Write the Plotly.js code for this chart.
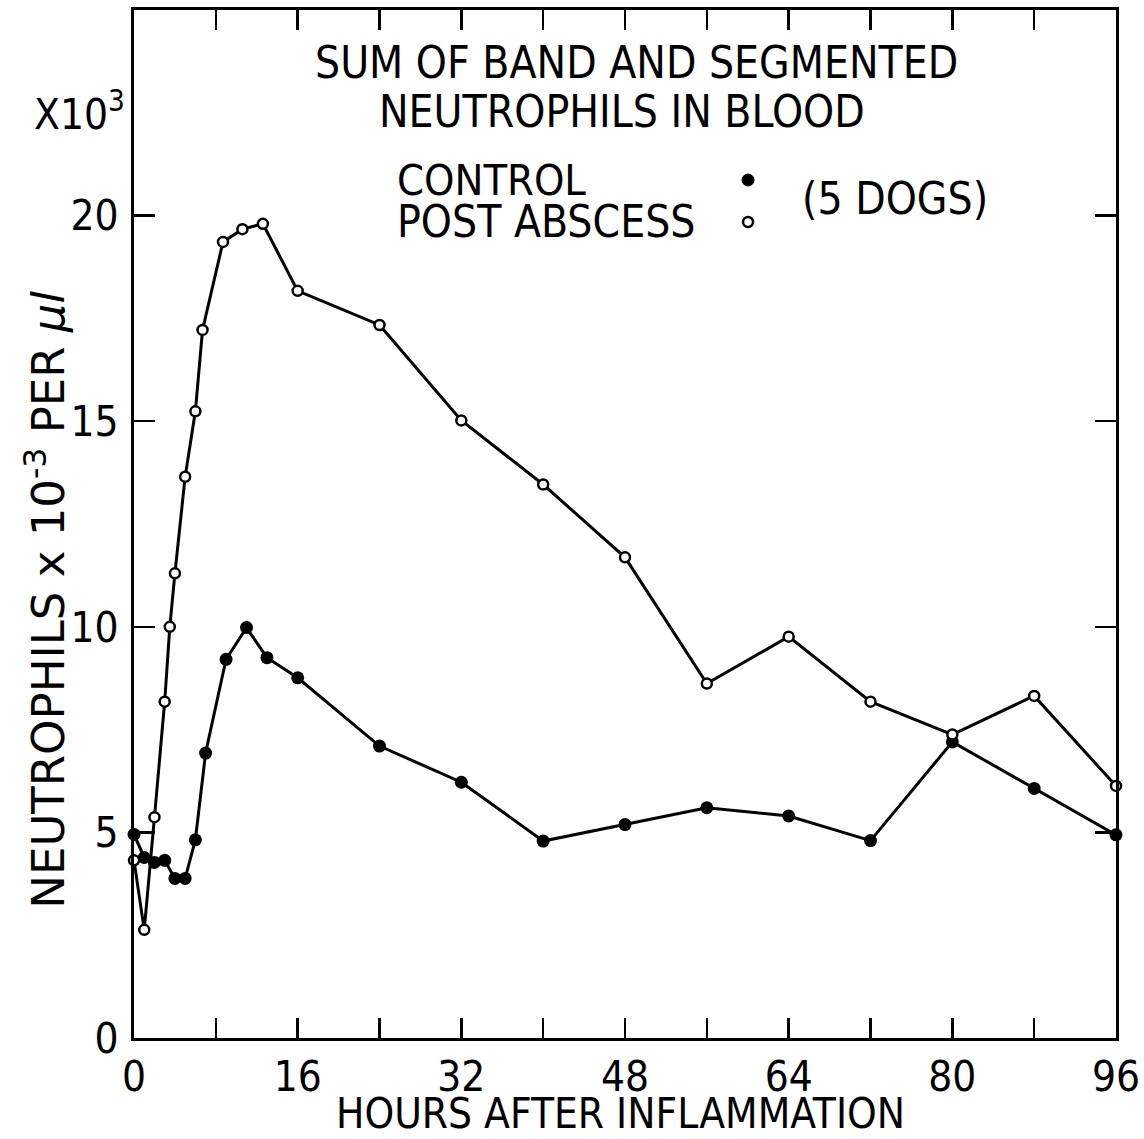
<!DOCTYPE html>
<html>
<head>
<meta charset="utf-8">
<script src="https://cdn.plot.ly/plotly-3.0.1.min.js"></script>
<style>html,body{margin:0;padding:0;background:#fff;}#chart{width:1144px;height:1139px;}</style>
</head>
<body>
<div id="chart"></div>
<script>
// Control (filled circles)
const controlHours = [0, 1, 2, 3, 4, 5, 6, 7, 9, 11, 13, 16, 24, 32, 40, 48, 56, 64, 72, 80, 88, 96];
const controlValues = [4.95, 4.39, 4.27, 4.32, 3.88, 3.88, 4.82, 6.93, 9.21, 9.98, 9.25, 8.76, 7.10, 6.22, 4.79, 5.19, 5.60, 5.40, 4.80, 7.20, 6.07, 4.94];
// Post abscess (open circles)
const postHours = [0, 1, 2, 3, 3.5, 4, 5, 6, 6.7, 8.7, 10.6, 12.6, 16, 24, 32, 40, 48, 56, 64, 72, 80, 88, 96];
const postValues = [4.32, 2.63, 5.37, 8.18, 10.0, 11.3, 13.65, 15.24, 17.22, 19.36, 19.67, 19.8, 18.17, 17.34, 15.02, 13.46, 11.69, 8.62, 9.76, 8.18, 7.38, 8.32, 6.13];
// Axis ticks
const xTickVals = [0, 16, 32, 48, 64, 80, 96];
const xTickText = ['0', '16', '32', '48', '64', '80', '96'];
const xMinorStep = 8;
const yTickVals = [0, 5, 10, 15, 20];
const yTickText = ['0', '5', '10', '15', '20'];

const FONT = '"DejaVu Sans Condensed", "DejaVu Sans", sans-serif';
const FONT_WIDE = '"DejaVu Sans", sans-serif';

const traces = [
  {
    x: controlHours, y: controlValues, type: 'scatter', mode: 'lines+markers',
    line: {color: '#000', width: 3},
    marker: {symbol: 'circle', size: 13, color: '#000'},
    cliponaxis: false, showlegend: false
  },
  {
    x: postHours, y: postValues, type: 'scatter', mode: 'lines+markers',
    line: {color: '#000', width: 3},
    marker: {symbol: 'circle', size: 10, color: '#fff', line: {color: '#000', width: 2.5}},
    cliponaxis: false, showlegend: false
  }
];

const layout = {
  width: 1144, height: 1139,
  margin: {l: 134, r: 28, t: 10, b: 101},
  paper_bgcolor: '#fff', plot_bgcolor: '#fff',
  font: {family: FONT, color: '#000'},
  xaxis: {
    range: [0, 96], tickmode: 'array', tickvals: xTickVals, ticktext: xTickText,
    ticks: 'inside', ticklen: 20, tickwidth: 2.5, tickcolor: '#000',
    minor: {dtick: xMinorStep, tick0: 0, ticks: 'inside', ticklen: 20, tickwidth: 2.5, tickcolor: '#000', showgrid: false},
    showline: true, linewidth: 3, linecolor: '#000', mirror: 'ticks',
    showgrid: false, zeroline: false,
    tickfont: {size: 42, family: FONT}, ticklabelstandoff: 0
  },
  yaxis: {
    range: [0, 25], tickmode: 'array', tickvals: yTickVals, ticktext: yTickText,
    ticks: 'inside', ticklen: 21, tickwidth: 2.5, tickcolor: '#000',
    showline: true, linewidth: 3, linecolor: '#000', mirror: 'ticks',
    showgrid: false, zeroline: false,
    tickfont: {size: 42, family: FONT}, ticklabelstandoff: 4
  },
  annotations: [
    {xref: 'paper', yref: 'paper', x: 0.512, y: 0.949, xanchor: 'center', yanchor: 'middle', showarrow: false,
     text: 'SUM OF BAND AND SEGMENTED', font: {size: 44, family: FONT}},
    {xref: 'paper', yref: 'paper', x: 0.497, y: 0.901, xanchor: 'center', yanchor: 'middle', showarrow: false,
     text: 'NEUTROPHILS IN BLOOD', font: {size: 44, family: FONT}},
    {xref: 'paper', yref: 'paper', x: 0.266, y: 0.8347, xanchor: 'left', yanchor: 'middle', showarrow: false,
     text: 'CONTROL', font: {size: 43, family: FONT}},
    {xref: 'paper', yref: 'paper', x: 0.266, y: 0.7938, xanchor: 'left', yanchor: 'middle', showarrow: false,
     text: 'POST ABSCESS', font: {size: 44, family: FONT}},
    {xref: 'paper', yref: 'paper', x: 0.678, y: 0.817, xanchor: 'left', yanchor: 'middle', showarrow: false,
     text: '(5 DOGS)', font: {size: 44, family: FONT}},
    {xref: 'paper', yref: 'paper', x: -0.055, y: 0.9008, xanchor: 'center', yanchor: 'middle', showarrow: false,
     text: 'X10<sup>3</sup>', font: {size: 42, family: FONT}},
    {xref: 'paper', yref: 'paper', x: -0.09, y: 0.426, xanchor: 'center', yanchor: 'middle', showarrow: false,
     textangle: -90, text: 'NEUTROPHILS x 10<sup>-3</sup> PER <i>μl</i>', font: {size: 45, family: FONT_WIDE}},
    {xref: 'paper', yref: 'paper', x: 0.495, y: -0.0735, xanchor: 'center', yanchor: 'middle', showarrow: false,
     text: 'HOURS AFTER INFLAMMATION', font: {size: 42, family: FONT}}
  ],
  shapes: [
    {type: 'circle', xref: 'paper', yref: 'paper', xsizemode: 'pixel', ysizemode: 'pixel',
     xanchor: 0.6253, yanchor: 0.8346, x0: -6, x1: 6, y0: -6, y1: 6,
     fillcolor: '#000', line: {color: '#000', width: 1}},
    {type: 'circle', xref: 'paper', yref: 'paper', xsizemode: 'pixel', ysizemode: 'pixel',
     xanchor: 0.6253, yanchor: 0.7938, x0: -5, x1: 5, y0: -5, y1: 5,
     fillcolor: '#fff', line: {color: '#000', width: 2.5}}
  ]
};

Plotly.newPlot('chart', traces, layout, {displayModeBar: false, staticPlot: true});
</script>
</body>
</html>
